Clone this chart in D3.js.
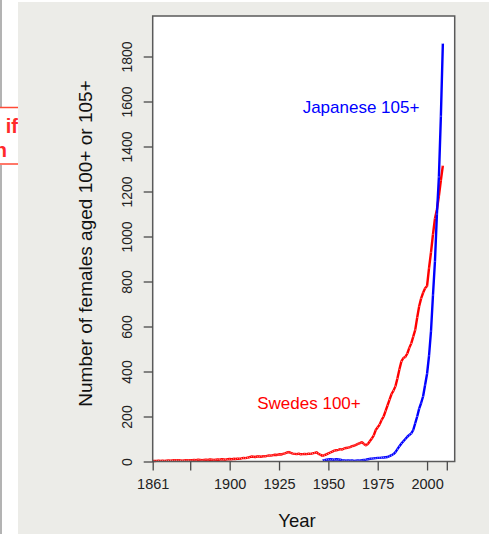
<!DOCTYPE html>
<html>
<head>
<meta charset="utf-8">
<script src="https://cdn.jsdelivr.net/npm/d3@7/dist/d3.min.js"></script>
<style>
  html, body { margin: 0; padding: 0; background: #ffffff; }
  svg { display: block; }
  text { font-family: "Liberation Sans", Arial, Helvetica, sans-serif; }
</style>
</head>
<body>
<svg id="chart" width="489" height="534"></svg>
<script>
// Female centenarians: Sweden (aged 100+) and Japan (aged 105+), by year
const swedesStart = 1861;
const swedesValues = [
  // 1861-1880
  3, 2, 3, 4, 3, 4, 3, 4, 5, 4, 5, 6, 5, 6, 5, 4, 5, 6, 5, 6,
  // 1881-1900
  6, 7, 6, 8, 7, 6, 7, 8, 7, 9, 8, 7, 8, 9, 8, 10, 9, 8, 10, 11,
  // 1901-1920
  10, 12, 11, 13, 12, 14, 16, 15, 17, 19, 22, 21, 20, 23, 22, 21, 24, 23, 25, 27,
  // 1921-1947
  26, 28, 30, 29, 32, 31, 34, 36, 40, 42, 38, 35, 34, 33, 35, 32, 33, 34, 33, 35,
  34, 36, 38, 41, 34, 30, 25,
  // 1948-1975
  28, 32, 36, 40, 44, 48, 50, 52, 55, 53, 58, 60, 62, 64, 68, 70, 74, 78, 82, 86,
  78, 72, 78, 90, 102, 116, 140, 152,
  // 1976-2008
  165, 185, 200, 225, 250, 275, 300, 315, 335, 370, 410, 445, 460, 465, 480, 505,
  525, 555, 585, 640, 690, 725, 750, 770, 780, 860, 930, 1010, 1080, 1120, 1180,
  1250, 1315
];

const japaneseStart = 1947;
const japaneseValues = [
  // 1947-1970
  5, 6, 8, 9, 10, 9, 8, 10, 9, 8, 6, 5, 4, 5, 4, 5, 3, 4, 5, 4, 6, 7, 8, 10,
  // 1971-1990
  12, 13, 14, 15, 16, 16, 17, 18, 19, 20, 24, 28, 33, 42, 55, 68, 80, 90, 100, 110,
  // 1991-2008
  118, 125, 140, 170, 200, 235, 260, 290, 340, 390, 470, 580, 740, 890, 1100, 1265,
  1535, 1858
];

const xTickValues = [1861, 1880, 1900, 1925, 1950, 1975, 2000, 2010];
const xTickLabels = ["1861", "", "1900", "1925", "1950", "1975", "2000", ""];
const yTickValues = [0, 200, 400, 600, 800, 1000, 1200, 1400, 1600, 1800];

const toPoints = (start, values) => values.map((v, i) => ({ year: start + i, value: v }));
const swedes = toPoints(swedesStart, swedesValues);
const japanese = toPoints(japaneseStart, japaneseValues);

const svg = d3.select("#chart");

// Page chrome around the figure
svg.append("line").attr("x1", 1).attr("x2", 1).attr("y1", 0).attr("y2", 107)
  .attr("stroke", "#9a9a9a").attr("stroke-width", 1.5);
svg.append("line").attr("x1", 1).attr("x2", 1).attr("y1", 165).attr("y2", 534)
  .attr("stroke", "#9a9a9a").attr("stroke-width", 1.5);
svg.append("line").attr("x1", 0).attr("x2", 19).attr("y1", 107.5).attr("y2", 107.5)
  .attr("stroke", "#ff4a36").attr("stroke-width", 1.5);
svg.append("line").attr("x1", 0).attr("x2", 19).attr("y1", 164).attr("y2", 164)
  .attr("stroke", "#ff4a36").attr("stroke-width", 1.5);
svg.append("text").attr("x", 18).attr("y", 133).attr("text-anchor", "end")
  .attr("font-size", 20).attr("font-weight", "bold").attr("fill", "#ff2a2a").text("if");
svg.append("text").attr("x", 7).attr("y", 157).attr("text-anchor", "end")
  .attr("font-size", 20).attr("font-weight", "bold").attr("fill", "#ff2a2a").text("n");

// Grey figure background
svg.append("rect").attr("x", 18).attr("y", 2).attr("width", 471).attr("height", 532)
  .attr("fill", "#ececE8");

// Plot region
const plot = { left: 152.7, right: 454.7, top: 16, bottom: 461.5 };

const x = d3.scaleLinear().domain([1861, 2014]).range([plot.left, plot.right]);
const y = d3.scaleLinear().domain([0, 1980]).range([plot.bottom, plot.top]);

svg.append("rect")
  .attr("x", plot.left).attr("y", plot.top)
  .attr("width", plot.right - plot.left).attr("height", plot.bottom - plot.top)
  .attr("fill", "#ffffff");

// Series lines
const line = d3.line().x(d => x(d.year)).y(d => y(d.value));

function drawSeries(data, colour) {
  svg.append("path").datum(data)
    .attr("fill", "none").attr("stroke", colour)
    .attr("stroke-width", 2.4).attr("stroke-linejoin", "round")
    .attr("d", line);
  svg.append("g").selectAll("circle").data(data).join("circle")
    .attr("cx", d => x(d.year)).attr("cy", d => y(d.value))
    .attr("r", 0.6).attr("fill", "#ffffff").attr("opacity", 0.55);
}
drawSeries(swedes, "#ff0000");
drawSeries(japanese, "#0000ff");

// Frame
svg.append("rect")
  .attr("x", plot.left).attr("y", plot.top)
  .attr("width", plot.right - plot.left).attr("height", plot.bottom - plot.top)
  .attr("fill", "none").attr("stroke", "#5a5a5a").attr("stroke-width", 1.5);

// Y axis
const yAxis = svg.append("g")
  .attr("transform", `translate(${plot.left},0)`)
  .call(d3.axisLeft(y).tickValues(yTickValues).tickSize(9).tickPadding(0).tickFormat(d3.format("d")));
yAxis.select(".domain").remove();
yAxis.selectAll(".tick line").attr("stroke", "#4a4a4a").attr("stroke-width", 1.3);
yAxis.selectAll(".tick text")
  .attr("x", null).attr("dy", null)
  .attr("transform", "translate(-20.5,0) rotate(-90)")
  .attr("text-anchor", "middle").attr("dy", "0")
  .attr("font-size", 14).attr("fill", "#222");

// X axis
const xAxis = svg.append("g")
  .attr("transform", `translate(0,${plot.bottom})`)
  .call(d3.axisBottom(x).tickValues(xTickValues).tickSize(9).tickPadding(8)
    .tickFormat((d, i) => xTickLabels[i]));
xAxis.select(".domain").remove();
xAxis.selectAll(".tick line").attr("stroke", "#4a4a4a").attr("stroke-width", 1.3);
xAxis.selectAll(".tick text").attr("font-size", 14.5).attr("fill", "#222");

// Axis titles
svg.append("text")
  .attr("transform", "translate(91.5,243.5) rotate(-90)")
  .attr("text-anchor", "middle").attr("font-size", 19).attr("fill", "#111")
  .text("Number of females aged 100+ or 105+");
svg.append("text")
  .attr("x", 297).attr("y", 527).attr("text-anchor", "middle")
  .attr("font-size", 18.5).attr("fill", "#111").text("Year");

// Series labels
svg.append("text").attr("x", 361).attr("y", 113).attr("text-anchor", "middle")
  .attr("font-size", 17).attr("fill", "#0000ff").text("Japanese 105+");
svg.append("text").attr("x", 309).attr("y", 409).attr("text-anchor", "middle")
  .attr("font-size", 17).attr("fill", "#ff0000").text("Swedes 100+");
</script>
</body>
</html>
